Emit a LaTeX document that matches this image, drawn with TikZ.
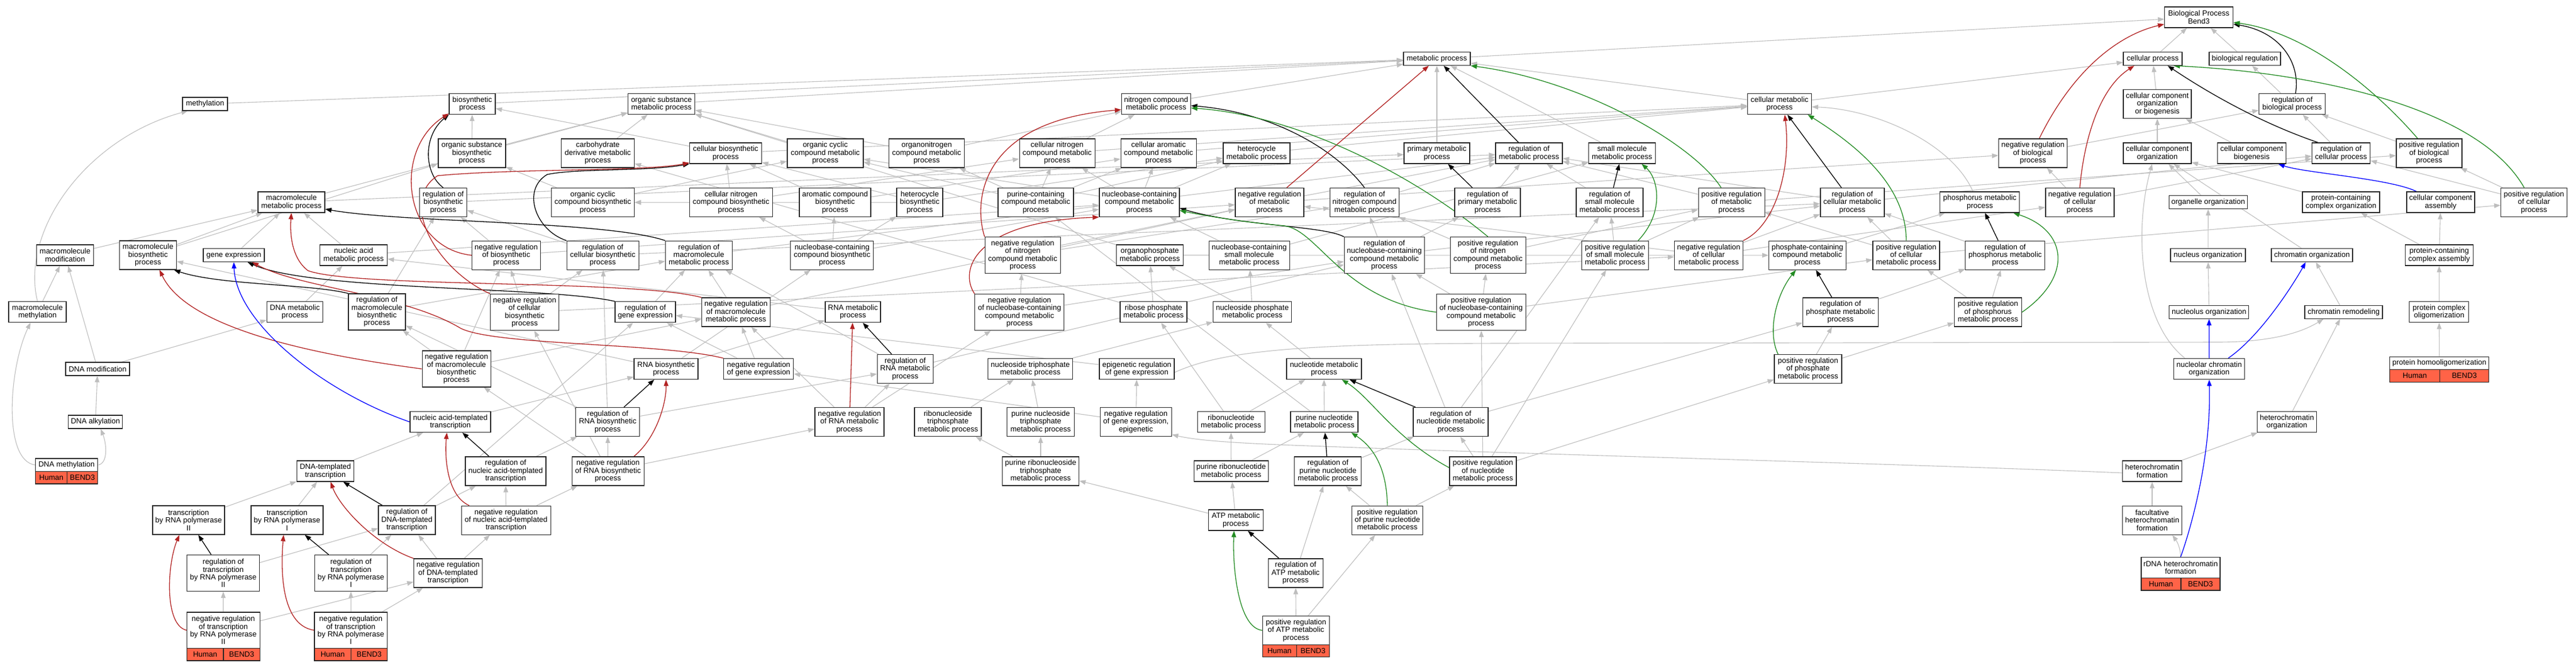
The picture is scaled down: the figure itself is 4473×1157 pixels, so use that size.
\documentclass[tikz,border=0pt]{standalone}
\usepackage{fontspec}
\usetikzlibrary{arrows.meta}
\newfontfamily\gofontfam{Liberation Sans}
\newcommand\gofont{\gofontfam\fontsize{13}{13.4}\selectfont}
\definecolor{edgegray}{RGB}{190,190,190}
\definecolor{gored}{RGB}{178,34,34}
\definecolor{gogreen}{RGB}{34,139,34}
\definecolor{goblue}{RGB}{0,0,255}
\definecolor{annot}{RGB}{255,99,71}
\pgfdeclarelayer{background}
\pgfsetlayers{background,main}
\tikzset{
  bx/.style={draw=black!85, line width=1.2pt, fill=white, inner sep=0pt, align=center, font=\gofont},
  cell/.style={draw=black!85, line width=1.2pt, fill=annot, inner sep=0pt, minimum height=21.5pt, font=\gofont, anchor=north west},
  egray/.style={draw=edgegray, line width=1.1pt, -{Triangle[length=11pt,width=8pt]}},
  eblack/.style={draw=black, line width=1.3pt, -{Triangle[length=11pt,width=8pt]}},
  ered/.style={draw=gored, line width=1.3pt, -{Triangle[length=11pt,width=8pt]}},
  egreen/.style={draw=gogreen, line width=1.3pt, -{Triangle[length=11pt,width=8pt]}},
  eblue/.style={draw=goblue, line width=1.3pt, -{Triangle[length=11pt,width=8pt]}}
}
\newcommand\bx[6]{\node[bx,minimum width=#4pt,minimum height=#5pt] (#1) at (#2,#3) {#6};}
\begin{document}
\begin{tikzpicture}[x=1pt,y=-1pt]
\useasboundingbox (0,0) rectangle (4473,1157);
% ---------- nodes ----------
\bx{BP}{3818}{30}{119}{36}{Biological Process\\Bend3}
\bx{cp}{3738}{102}{102}{23}{cellular process}
\bx{breg}{3898}{102}{124}{23}{biological regulation}
\bx{mp}{2495}{102}{116}{23}{metabolic process}
\bx{meth}{356}{180.5}{78}{23}{methylation}
\bx{bsp}{820}{180.5}{80}{36}{biosynthetic\\process}
\bx{osmp}{1148.5}{180.5}{116}{36}{organic substance\\metabolic process}
\bx{ncmp}{2007.5}{180.5}{120}{36}{nitrogen compound\\metabolic process}
\bx{cmp}{3090}{180.5}{111}{36}{cellular metabolic\\process}
\bx{ccob}{3746}{180.5}{118}{50}{cellular component\\organization\\or biogenesis}
\bx{rbp}{3980}{180.5}{115}{36}{regulation of\\biological process}
\bx{osbp}{819.4}{266}{117}{50}{organic substance\\biosynthetic\\process}
\bx{cdmp}{1038}{266}{127}{50}{carbohydrate\\derivative metabolic\\process}
\bx{cbp}{1260}{266}{125}{36}{cellular biosynthetic\\process}
\bx{occmp}{1433}{266}{132}{50}{organic cyclic\\compound metabolic\\process}
\bx{onmp}{1609}{266}{131}{50}{organonitrogen\\compound metabolic\\process}
\bx{cncmp}{1835.6}{266}{131}{50}{cellular nitrogen\\compound metabolic\\process}
\bx{cacmp}{2011.7}{266}{131}{50}{cellular aromatic\\compound metabolic\\process}
\bx{hmp}{2182}{266}{116}{36}{heterocycle\\metabolic process}
\bx{pmp}{2495}{266}{114}{36}{primary metabolic\\process}
\bx{rmp}{2655}{266}{116}{36}{regulation of\\metabolic process}
\bx{smmp}{2816.5}{266}{116}{36}{small molecule\\metabolic process}
\bx{nrbp}{3530}{266}{119}{50}{negative regulation\\of biological\\process}
\bx{cco}{3746}{266}{118}{36}{cellular component\\organization}
\bx{ccb}{3910}{266}{119}{36}{cellular component\\biogenesis}
\bx{rcp}{4065}{266}{101}{36}{regulation of\\cellular process}
\bx{prbp}{4218}{266}{114}{50}{positive regulation\\of biological\\process}
\bx{mmp}{506}{351}{116}{36}{macromolecule\\metabolic process}
\bx{rbsp}{769.6}{351.4}{82}{50}{regulation of\\biosynthetic\\process}
\bx{occbp}{1029.4}{351.4}{144}{50}{organic cyclic\\compound biosynthetic\\process}
\bx{cncbp}{1269.3}{351.4}{144}{50}{cellular nitrogen\\compound biosynthetic\\process}
\bx{acbp}{1450}{351.4}{124}{50}{aromatic compound\\biosynthetic\\process}
\bx{hbp}{1597}{351.4}{80}{50}{heterocycle\\biosynthetic\\process}
\bx{pccmp}{1798.5}{351.4}{131}{50}{purine-containing\\compound metabolic\\process}
\bx{nbcmp}{1978.4}{351.4}{139}{50}{nucleobase-containing\\compound metabolic\\process}
\bx{nrmp}{2204.4}{351.4}{119}{50}{negative regulation\\of metabolic\\process}
\bx{rncmp}{2369.3}{351.4}{120}{50}{regulation of\\nitrogen compound\\metabolic process}
\bx{rpmp}{2583}{351.4}{114}{50}{regulation of\\primary metabolic\\process}
\bx{rsmmp}{2795}{351.4}{116}{50}{regulation of\\small molecule\\metabolic process}
\bx{prmp}{3006.6}{351.4}{115}{50}{positive regulation\\of metabolic\\process}
\bx{rcmp}{3216.4}{351.4}{111}{50}{regulation of\\cellular metabolic\\process}
\bx{phmp}{3437.8}{351}{138}{36}{phosphorus metabolic\\process}
\bx{nrcp}{3611.4}{351.4}{119}{50}{negative regulation\\of cellular\\process}
\bx{oo}{3834.3}{351}{136}{23}{organelle organization}
\bx{pcco}{4065}{351}{134}{36}{protein-containing\\complex organization}
\bx{cca}{4238}{351}{118}{36}{cellular component\\assembly}
\bx{prcp}{4400}{351.4}{115}{50}{positive regulation\\of cellular\\process}
\bx{mmod}{113}{443}{99}{36}{macromolecule\\modification}
\bx{mbp}{257}{443}{99}{50}{macromolecule\\biosynthetic\\process}
\bx{ge}{406}{443}{106}{23}{gene expression}
\bx{namp}{614}{443}{117}{36}{nucleic acid\\metabolic process}
\bx{nrbsp}{879}{443.2}{119}{50}{negative regulation\\of biosynthetic\\process}
\bx{rcbp}{1046.6}{443.2}{125}{50}{regulation of\\cellular biosynthetic\\process}
\bx{rmmp}{1213.5}{443.2}{116}{50}{regulation of\\macromolecule\\metabolic process}
\bx{nbcbp}{1444.8}{443.2}{144}{50}{nucleobase-containing\\compound biosynthetic\\process}
\bx{nrncmp}{1775.8}{443.2}{131}{63}{negative regulation\\of nitrogen\\compound metabolic\\process}
\bx{opmp}{1996.5}{443}{116}{36}{organophosphate\\metabolic process}
\bx{nbsmmp}{2169.2}{443.2}{140}{50}{nucleobase-containing\\small molecule\\metabolic process}
\bx{rnbcmp}{2403.7}{443.2}{139}{63}{regulation of\\nucleobase-containing\\compound metabolic\\process}
\bx{prncmp}{2583.8}{443.2}{131}{63}{positive regulation\\of nitrogen\\compound metabolic\\process}
\bx{prsmmp}{2804.5}{443.2}{116}{50}{positive regulation\\of small molecule\\metabolic process}
\bx{nrcmp}{2967}{443.2}{119}{50}{negative regulation\\of cellular\\metabolic process}
\bx{pcmp}{3138.4}{443.2}{134}{50}{phosphate-containing\\compound metabolic\\process}
\bx{prcmp}{3310}{443.2}{116}{50}{positive regulation\\of cellular\\metabolic process}
\bx{rphmp}{3481.8}{443.2}{138}{50}{regulation of\\phosphorus metabolic\\process}
\bx{no}{3834}{443}{130}{23}{nucleus organization}
\bx{co}{4014.5}{443}{141}{23}{chromatin organization}
\bx{pcca}{4235.4}{443}{118}{36}{protein-containing\\complex assembly}
\bx{mmeth}{65}{541.5}{100}{36}{macromolecule\\methylation}
\bx{dmp}{512}{541.5}{97}{36}{DNA metabolic\\process}
\bx{rmbp}{654.5}{541.5}{99}{63}{regulation of\\macromolecule\\biosynthetic\\process}
\bx{nrcbp}{911}{542}{119}{63}{negative regulation\\of cellular\\biosynthetic\\process}
\bx{rge}{1120.5}{541.7}{105}{36}{regulation of\\gene expression}
\bx{nrmmp}{1278}{542}{119}{50}{negative regulation\\of macromolecule\\metabolic process}
\bx{rnamp}{1481}{541.7}{96}{36}{RNA metabolic\\process}
\bx{nrnbcmp}{1770.3}{542}{155}{63}{negative regulation\\of nucleobase-containing\\compound metabolic\\process}
\bx{rphos}{2003}{541.7}{116}{36}{ribose phosphate\\metabolic process}
\bx{nspmp}{2174.5}{541.7}{136}{36}{nucleoside phosphate\\metabolic process}
\bx{prnbcmp}{2571.8}{542}{155}{63}{positive regulation\\of nucleobase-containing\\compound metabolic\\process}
\bx{rphatmp}{3195.8}{542}{131}{50}{regulation of\\phosphate metabolic\\process}
\bx{prphmp}{3452}{542}{117}{50}{positive regulation\\of phosphorus\\metabolic process}
\bx{nuo}{3835.8}{541.7}{138}{23}{nucleolus organization}
\bx{cr}{4069.5}{541.7}{135}{23}{chromatin remodeling}
\bx{pco}{4235.3}{541.7}{103}{36}{protein complex\\oligomerization}
\bx{dmod}{169.5}{640.5}{111}{23}{DNA modification}
\bx{nrmbp}{792.6}{640.4}{119}{63}{negative regulation\\of macromolecule\\biosynthetic\\process}
\bx{rnabp}{1156.5}{640.5}{111}{36}{RNA biosynthetic\\process}
\bx{nrge}{1317.3}{640.5}{121}{36}{negative regulation\\of gene expression}
\bx{rrnamp}{1571.8}{640.4}{97}{50}{regulation of\\RNA metabolic\\process}
\bx{ntpmp}{1789}{640.5}{147}{36}{nucleoside triphosphate\\metabolic process}
\bx{erge}{1974}{640.5}{130}{36}{epigenetic regulation\\of gene expression}
\bx{ntmp}{2299}{640.5}{130}{36}{nucleotide metabolic\\process}
\bx{prphatmp}{3139.4}{640.4}{117}{50}{positive regulation\\of phosphate\\metabolic process}
\bx{ncho}{3836}{640.5}{123}{36}{nucleolar chromatin\\organization}
\bx{dalk}{165.7}{732.5}{94}{23}{DNA alkylation}
\bx{natt}{782}{732.5}{140}{36}{nucleic acid-templated\\transcription}
\bx{rrnabp}{1055.2}{732.5}{111}{50}{regulation of\\RNA biosynthetic\\process}
\bx{nrrnamp}{1475}{732.5}{120}{50}{negative regulation\\of RNA metabolic\\process}
\bx{rntpmp}{1646}{732.5}{116}{50}{ribonucleoside\\triphosphate\\metabolic process}
\bx{pntpmp}{1807}{732.5}{117}{50}{purine nucleoside\\triphosphate\\metabolic process}
\bx{nrgee}{1972.4}{732.5}{124}{50}{negative regulation\\of gene expression,\\epigenetic}
\bx{rntmp}{2137.6}{732.5}{117}{36}{ribonucleotide\\metabolic process}
\bx{pntmp}{2299.4}{732.5}{117}{36}{purine nucleotide\\metabolic process}
\bx{rntmp2}{2519}{732.5}{130}{50}{regulation of\\nucleotide metabolic\\process}
\bx{hco}{3971}{732.5}{103}{36}{heterochromatin\\organization}
\bx{dtt}{565}{818}{99}{36}{DNA-templated\\transcription}
\bx{rnatt}{878}{818}{140}{50}{regulation of\\nucleic acid-templated\\transcription}
\bx{nrrnabp}{1055.7}{818}{125}{50}{negative regulation\\of RNA biosynthetic\\process}
\bx{prntpmp}{1807}{818}{133}{50}{purine ribonucleoside\\triphosphate\\metabolic process}
\bx{prntmp}{2137.7}{818}{129}{36}{purine ribonucleotide\\metabolic process}
\bx{rpntmp}{2305.8}{818}{116}{50}{regulation of\\purine nucleotide\\metabolic process}
\bx{prntmp2}{2575}{818}{116}{50}{positive regulation\\of nucleotide\\metabolic process}
\bx{hcf}{3737}{818}{103}{36}{heterochromatin\\formation}
\bx{trp2}{327.5}{903}{125}{50}{transcription\\by RNA polymerase\\II}
\bx{trp1}{498.4}{903}{125}{50}{transcription\\by RNA polymerase\\I}
\bx{rdtt}{706.5}{903}{99}{50}{regulation of\\DNA-templated\\transcription}
\bx{nrnatt}{878.7}{903.2}{155}{50}{negative regulation\\of nucleic acid-templated\\transcription}
\bx{atp}{2145.8}{903}{95}{36}{ATP metabolic\\process}
\bx{prpntmp}{2409}{903.2}{123}{50}{positive regulation\\of purine nucleotide\\metabolic process}
\bx{fhcf}{3737}{903.2}{103}{50}{facultative\\heterochromatin\\formation}
\bx{rtrp2}{387.7}{995}{126}{63}{regulation of\\transcription\\by RNA polymerase\\II}
\bx{rtrp1}{609.4}{995}{125.5}{63}{regulation of\\transcription\\by RNA polymerase\\I}
\bx{nrdtt}{778}{995}{119}{50}{negative regulation\\of DNA-templated\\transcription}
\bx{ratp}{2249.7}{995}{95}{50}{regulation of\\ATP metabolic\\process}
% annotated nodes
\node[bx,minimum width=108pt,minimum height=22.4pt,anchor=north west] (dmeth) at (61,795.4) {DNA methylation};
\node[cell,minimum width=55pt] (dmethH) at (61,817.8) {Human};
\node[cell,minimum width=53pt] (dmethB) at (116,817.8) {BEND3};
\node[bx,minimum width=126.8pt,minimum height=62.5pt,anchor=north west] (nrtrp2) at (323.8,1062.3) {negative regulation\\of transcription\\by RNA polymerase\\II};
\node[cell,minimum width=63.6pt] (nrtrp2H) at (323.8,1124.8) {Human};
\node[cell,minimum width=63.2pt] (nrtrp2B) at (387.4,1124.8) {BEND3};
\node[bx,minimum width=126.7pt,minimum height=62.5pt,anchor=north west] (nrtrp1) at (545.3,1062.3) {negative regulation\\of transcription\\by RNA polymerase\\I};
\node[cell,minimum width=63.6pt] (nrtrp1H) at (545.3,1124.8) {Human};
\node[cell,minimum width=63.1pt] (nrtrp1B) at (608.9,1124.8) {BEND3};
\node[bx,minimum width=116.3pt,minimum height=49.5pt,anchor=north west] (pratp) at (2191.7,1069) {positive regulation\\of ATP metabolic\\process};
\node[cell,minimum width=58.9pt] (pratpH) at (2191.7,1118.5) {Human};
\node[cell,minimum width=57.4pt] (pratpB) at (2250.6,1118.5) {BEND3};
\node[bx,minimum width=137pt,minimum height=35.9pt,anchor=north west] (rdna) at (3717.3,966.9) {rDNA heterochromatin\\formation};
\node[cell,minimum width=69pt] (rdnaH) at (3717.3,1002.8) {Human};
\node[cell,minimum width=68pt] (rdnaB) at (3786.3,1002.8) {BEND3};
\node[bx,minimum width=172.2pt,minimum height=22.4pt,anchor=north west] (phomo) at (4149,618.7) {protein homooligomerization};
\node[cell,minimum width=86.9pt] (phomoH) at (4149,641.1) {Human};
\node[cell,minimum width=85.3pt] (phomoB) at (4235.9,641.1) {BEND3};
% ---------- edges ----------
\begin{pgfonlayer}{background}
\fill[white] (0,0) rectangle (4473,1157);
\foreach \a/\b in {cp/BP, breg/BP, mp/BP, rbp/breg, ccob/cp, cmp/cp, rcp/rbp, prbp/rbp, nrbp/rbp, cco/ccob, ccb/ccob, oo/cco, pcco/cco, co/cco, prcp/rcp, prcp/prbp, no/oo, pcca/pcco, pcca/cca, nuo/no, cr/co, pco/pcca, phomo/pco, hco/cr, fhcf/hcf, hcf/hco,
 meth/mp, bsp/mp, osmp/mp, ncmp/mp, cmp/mp, pmp/mp, smmp/mp,
 osbp/bsp, osbp/osmp, cdmp/osmp, cbp/bsp, cbp/cmp, occmp/osmp, onmp/osmp, onmp/ncmp, cncmp/ncmp, cncmp/cmp, cacmp/cmp, hmp/cmp,
 mmp/osmp, mmp/pmp, rbsp/rmp, occbp/occmp, occbp/osbp, cncbp/cncmp, cncbp/cbp, acbp/cbp, acbp/cacmp, acbp/occbp, hbp/hmp, hbp/cbp, hbp/occbp,
 pccmp/cncmp, pccmp/cacmp, pccmp/hmp, pccmp/occmp, pccmp/onmp, nbcmp/cncmp, nbcmp/cacmp, nbcmp/hmp, nbcmp/occmp,
 nrmp/rmp, nrmp/nrbp, rncmp/rmp, rpmp/rmp, rsmmp/rmp, prmp/rmp, prmp/prbp, rcmp/rmp, rcmp/rcp, nrcp/rcp, nrcp/nrbp,
 mmod/mmp, mbp/mmp, mbp/osbp, ge/mmp, namp/mmp, namp/nbcmp, nrbsp/rbsp, nrbsp/nrmp, rcbp/rbsp, rcbp/rcmp, rmmp/rmp,
 nbcbp/nbcmp, nbcbp/cncbp, nbcbp/acbp, nbcbp/hbp, nrncmp/rncmp, nrncmp/nrmp, opmp/pcmp, opmp/osmp, nbsmmp/nbcmp, nbsmmp/smmp,
 rnbcmp/rncmp, rnbcmp/rpmp, rnbcmp/rcmp, prncmp/rncmp, prncmp/prmp, prsmmp/rsmmp, prsmmp/prmp, nrcmp/rcmp, nrcmp/nrmp, nrcmp/nrcp,
 pcmp/phmp, prcmp/rcmp, prcmp/prmp, prcmp/prcp, rphmp/rcmp,
 mmeth/mmod, dmp/namp, rmbp/rmmp, rmbp/rbsp, nrcbp/rcbp, nrcbp/nrbsp, nrcbp/nrcmp, rge/rmmp, nrmmp/rmmp, nrmmp/nrmp, rnamp/namp,
 nrnbcmp/rnbcmp, nrnbcmp/nrncmp, rphos/opmp, rphos/cdmp, nspmp/nbsmmp, nspmp/opmp, prnbcmp/rnbcmp, prnbcmp/prncmp, prnbcmp/prcmp,
 rphatmp/rphmp, prphmp/rphmp, prphmp/prcmp,
 dmod/mmod, dmod/dmp, nrmbp/rmbp, nrmbp/nrbsp, nrmbp/nrmmp, rnabp/rnamp, rnabp/nbcbp, rnabp/mbp, nrge/rge, nrge/nrmmp, rrnamp/rnbcmp, rrnamp/rmmp, erge/rge, ntpmp/nspmp, ntmp/nspmp, prphatmp/rphatmp, prphatmp/prphmp,
 dalk/dmod, natt/rnabp, rrnabp/rrnamp, rrnabp/rcbp, rrnabp/rmbp, nrrnamp/rrnamp, nrrnamp/nrnbcmp, nrrnamp/nrmmp, rntpmp/ntpmp, pntpmp/ntpmp, nrgee/erge, nrgee/nrge, rntmp/rphos, rntmp/ntmp, pntmp/ntmp, pntmp/pccmp, rntmp2/rnbcmp, rntmp2/rphatmp, rntmp2/rsmmp,
 dtt/natt, rnatt/rrnabp, nrrnabp/rrnabp, nrrnabp/nrrnamp, nrrnabp/nrmbp, nrrnabp/nrcbp, prntpmp/rntpmp, prntpmp/pntpmp, prntmp/rntmp, prntmp/pntmp, rpntmp/rntmp2, prntmp2/rntmp2, prntmp2/prnbcmp, prntmp2/prphatmp, prntmp2/prsmmp,
 trp2/dtt, trp1/dtt, rdtt/rnatt, rdtt/rge, nrnatt/rnatt, nrnatt/nrrnabp, atp/prntpmp, atp/prntmp, prpntmp/rpntmp, prpntmp/prntmp2,
 rtrp2/rdtt, rtrp1/rdtt, nrdtt/rdtt, nrdtt/nrnatt, ratp/rpntmp,
 nrtrp2/rtrp2, nrtrp2/nrdtt, nrtrp1/rtrp1, nrtrp1/nrdtt, pratp/ratp, pratp/prpntmp}
  \draw[egray] (\a) -- (\b);
% curved gray
\draw[egray] (mmeth.north) .. controls (35,400) and (150,240) .. ([xshift=-30pt]meth.south);
\draw[egray] (dmeth.west) .. controls (5,800) and (15,640) .. ([xshift=-12pt]mmeth.south);
\draw[egray] (dmeth.east) .. controls (188,805) and (185,770) .. ([xshift=9pt]dalk.south);
\draw[egray] (rdna.north) .. controls (3786,950) and (3780,940) .. ([xshift=35pt]fhcf.south);
\draw[egray] ([xshift=-42pt]ncho.north) .. controls (3715,560) and (3705,400) .. ([xshift=-9pt]cco.south);
\draw[egray] ([xshift=-12pt]phmp.north) .. controls (3390,250) and (3260,190) .. ([yshift=-5pt]cmp.east);
\draw[egray] ([yshift=-6pt]erge.east) .. controls (2120,610) and (2250,597) .. (2600,596) -- (3850,594) .. controls (3950,594) and (4000,575) .. ([xshift=-35pt]cr.south);
\draw[egray] ([yshift=-3pt]hcf.west) .. controls (3300,805) and (2700,790) .. (2300,775) .. controls (2150,770) and (2080,765) .. ([yshift=-22pt]nrgee.east);
% black
\draw[eblack] ([xshift=6pt]rbp.north) .. controls (3995,110) and (3960,55) .. ([yshift=-12pt]BP.east);
\draw[eblack] ([xshift=-40pt]rcp.north) .. controls (3930,215) and (3840,165) .. ([xshift=26pt]cp.south);
\draw[eblack] (rmp) -- (mp);
\draw[eblack] (rbsp.north) .. controls (735,300) and (735,235) .. (bsp.south west);
\draw[eblack] (rcbp.north west) .. controls (930,400) and (905,330) .. (950,303) .. controls (1000,292) and (1120,298) .. (cbp.south west);
\draw[eblack] (rmmp.north west) .. controls (1050,383) and (700,387) .. ([yshift=-12pt]mmp.east);
\draw[eblack] (rge.north west) .. controls (950,497) and (540,505) .. ([xshift=24pt]ge.south);
\draw[eblack] (rmbp.north west) .. controls (540,493) and (380,495) .. ([xshift=-5pt]mbp.south east);
\draw[eblack] (rncmp.north) .. controls (2320,260) and (2210,195) .. ([yshift=-3pt]ncmp.east);
\draw[eblack] (rpmp) -- (pmp);
\draw[eblack] (rsmmp) -- (smmp);
\draw[eblack] (rcmp) -- (cmp);
\draw[eblack] (rnbcmp.north west) .. controls (2300,392) and (2150,392) .. ([yshift=-10pt]nbcmp.east);
\draw[eblack] (rphmp) -- (phmp);
\draw[eblack] (rphatmp) -- (pcmp);
\draw[eblack] (rrnamp) -- (rnamp);
\draw[eblack] (rrnabp) -- (rnabp);
\draw[eblack] (rnatt) -- (natt);
\draw[eblack] (rdtt) -- (dtt);
\draw[eblack] (rtrp2) -- (trp2);
\draw[eblack] (rtrp1) -- (trp1);
\draw[eblack] (rntmp2) -- (ntmp);
\draw[eblack] (rpntmp) -- (pntmp);
\draw[eblack] (ratp) -- (atp);
% red
\draw[ered] ([xshift=11pt]nrbp.north) .. controls (3600,120) and (3680,60) .. ([yshift=-12pt]BP.west);
\draw[ered] (nrcp.north) .. controls (3620,230) and (3650,150) .. ([xshift=-32pt]cp.south);
\draw[ered] (nrmp) -- (mp);
\draw[ered] (nrbsp.west) .. controls (700,430) and (680,260) .. ([yshift=2pt]bsp.south west);
\draw[ered] (nrcbp.north west) .. controls (760,470) and (690,350) .. (760,305) .. controls (900,292) and (1120,298) .. ([yshift=2pt]cbp.south west);
\draw[ered] (nrmmp.north west) .. controls (1100,485) and (620,500) .. (535,470) .. controls (508,450) and (503,410) .. (mmp.south);
\draw[ered] (nrge.north west) .. controls (1150,595) and (860,600) .. (800,570) .. controls (700,510) and (520,500) .. ([xshift=32pt]ge.south);
\draw[ered] (nrmbp.west) .. controls (500,610) and (320,560) .. ([xshift=20pt]mbp.south);
\draw[ered] (nrncmp.north west) .. controls (1690,350) and (1700,210) .. ([yshift=-10pt]ncmp.west);
\draw[ered] (nrcmp.north east) .. controls (3085,390) and (3110,290) .. ([xshift=9pt]cmp.south);
\draw[ered] (nrnbcmp.north west) .. controls (1665,470) and (1690,385) .. (nbcmp.south west);
\draw[ered] (nrrnamp) -- (rnamp);
\draw[ered] ([xshift=45pt]nrrnabp.north) .. controls (1140,760) and (1157,700) .. (rnabp.south);
\draw[ered] ([xshift=-64pt]nrnatt.north) .. controls (775,860) and (772,790) .. ([xshift=-6pt]natt.south);
\draw[ered] (nrdtt.north west) .. controls (650,945) and (590,880) .. ([xshift=9pt]dtt.south);
\draw[ered] (nrtrp2.west) .. controls (285,1085) and (290,980) .. ([xshift=-16pt]trp2.south);
\draw[ered] (nrtrp1.west) .. controls (485,1085) and (488,980) .. ([xshift=-6pt]trp1.south);
% green
\draw[egreen] ([xshift=-20pt]prbp.north) .. controls (4120,150) and (4000,55) .. ([yshift=-9pt]BP.east);
\draw[egreen] ([xshift=-17pt]prcp.north) .. controls (4300,180) and (4000,125) .. ([xshift=36pt]cp.south);
\draw[egreen] ([xshift=-18pt]prmp.north) .. controls (2940,250) and (2750,140) .. (mp.south east);
\draw[egreen] (prncmp.north) .. controls (2450,300) and (2250,200) .. ([yshift=-7pt]ncmp.east);
\draw[egreen] ([xshift=40pt]prsmmp.north) .. controls (2890,370) and (2880,310) .. ([xshift=34pt]smmp.south);
\draw[egreen] (prcmp.north) .. controls (3310,320) and (3220,250) .. ([xshift=49pt]cmp.south);
\draw[egreen] (prnbcmp.west) .. controls (2330,520) and (2290,400) .. (2230,392) .. controls (2150,385) and (2080,372) .. ([yshift=-14pt]nbcmp.east);
\draw[egreen] (prphmp.east) .. controls (3600,480) and (3590,400) .. ([xshift=58pt]phmp.south);
\draw[egreen] ([xshift=-52pt]prphatmp.north) .. controls (3068,575) and (3085,510) .. ([xshift=-20pt]pcmp.south);
\draw[egreen] ([yshift=6pt]prntmp2.west) .. controls (2420,760) and (2380,690) .. ([xshift=31pt]ntmp.south);
\draw[egreen] (prpntmp.north) .. controls (2408,820) and (2390,780) .. ([xshift=47pt]pntmp.south);
\draw[egreen] (pratp.west) .. controls (2150,1090) and (2140,985) .. ([xshift=-3pt]atp.south);
% blue
\draw[eblue] ([xshift=-42pt]cca.north) .. controls (4150,310) and (4000,300) .. ([xshift=46pt]ccb.south);
\draw[eblue] (ncho) -- (nuo);
\draw[eblue] ([xshift=33pt]ncho.north) .. controls (3930,580) and (3990,480) .. ([xshift=-11pt]co.south);
\draw[eblue] (rdna.north) .. controls (3800,930) and (3840,800) .. (ncho.south);
\draw[eblue] (natt.west) .. controls (560,680) and (410,560) .. (ge.south);
\end{pgfonlayer}
\end{tikzpicture}
\end{document}
